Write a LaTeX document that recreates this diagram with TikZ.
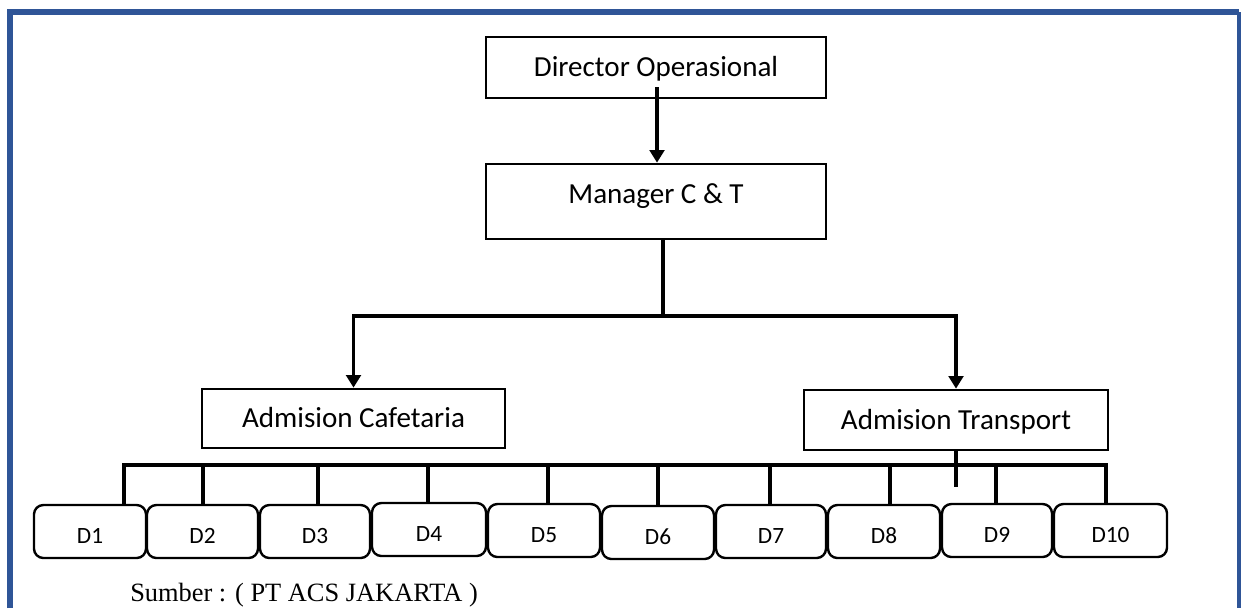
\documentclass[tikz,border=0pt]{standalone}
\usepackage{fontspec}
\setmainfont{Carlito}
\newfontfamily\tnr{Liberation Serif}
\usetikzlibrary{arrows.meta}
\definecolor{frameblue}{RGB}{47,85,151}
\tikzset{
  boxs/.style={draw=black, line width=2pt, inner sep=0pt, fill=white,
    font=\fontsize{21.8}{26}\selectfont},
  dbox/.style={draw=black, line width=1.8pt, inner sep=0pt, rounded corners=7pt, fill=white,
    font=\fontsize{17.5}{21}\selectfont, text height=18pt, text depth=0pt},
  conn/.style={draw=black, line width=2.6pt},
  tip/.tip={Triangle[width=11pt,length=9.5pt]},
  arr/.style={conn, -tip},
  arrb/.style={conn, tip-tip}
}
\begin{document}
\begin{tikzpicture}[x=0.75pt,y=-0.75pt]
\useasboundingbox (0,0) rectangle (1241,608);
% frame
\draw[frameblue, line width=4.5pt] (10,608) -- (10,12) -- (1239,12);
\draw[frameblue, line width=2.6pt] (1239,12) -- (1239,608);
% boxes
\node[boxs, minimum width=255pt, minimum height=45.75pt, text height=16pt, text depth=2.3pt] (dir) at (656,67.5) {Director Operasional};
\node[boxs, minimum width=255pt, minimum height=56.25pt, text height=12pt, text depth=9.5pt] (mgr) at (656,201.5) {Manager C \& T};
\node[boxs, minimum width=227.25pt, minimum height=44.25pt, text height=15.5pt, text depth=2.5pt] (caf) at (353.5,418.5) {Admision Cafetaria};
\node[boxs, minimum width=228pt, minimum height=45pt, text height=16pt, text depth=2.3pt] (tra) at (956,420) {Admision Transport};
% D boxes
\foreach \i/\l/\r/\t/\b in {1/34/146/505/558, 2/147/258/505/558, 3/260/370/505/558,
  4/372/486/503/556, 5/488/600/504/557, 6/602/714/506/559, 7/716/826/505/558,
  8/828/940/505/558, 9/942/1052/504/557, 10/1054/1167/504/557}
  \node[dbox, minimum width={(\r-\l)*0.75}, minimum height={(\b-\t)*0.75}] (d\i) at ({(\l+\r)/2},{(\t+\b)/2}) {D\i};
% connectors
\coordinate (a0) at (657,87);
\draw[arr] (a0) -- (a0 |- mgr.north);
\coordinate (j) at (663,316);
\draw[conn] (j |- mgr.south) -- (j);
\draw[arrb] (caf.north) -- (caf.north |- j) -- (j -| tra.north) -- (tra.north);
\coordinate (t0) at (956,487);
\draw[conn] (tra.south -| t0) -- (t0);
\coordinate (bl) at (122,465);
\coordinate (br) at (1108,465);
\draw[conn] (bl) -- (br);
\foreach \i/\x in {1/124,2/203,3/318,4/428,5/548,6/658,7/770,8/890,9/996,10/1106} {
  \coordinate (b\i) at (\x,465);
  \draw[conn] (b\i) -- (b\i |- d\i.north);
}
% source
\node[anchor=base west, inner sep=0pt, font=\tnr\fontsize{19.8}{24}\selectfont] (src) at (130,601) {Sumber : ( PT ACS JAKARTA )};
\end{tikzpicture}
\end{document}
